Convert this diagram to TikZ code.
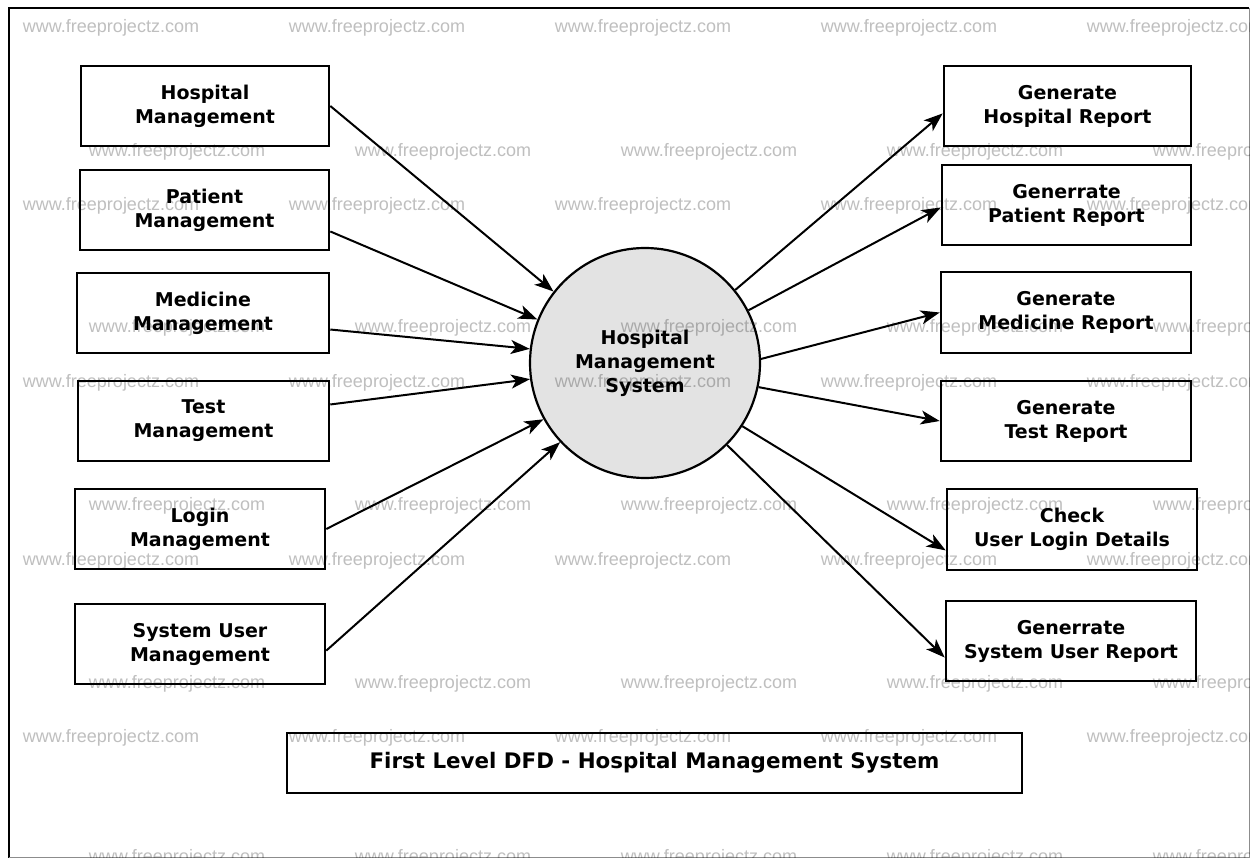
\documentclass[tikz,border=0pt]{standalone}
\usepackage{fontspec}
\setmainfont{DejaVu Sans}
\newfontfamily\wmfont{Liberation Sans}
\usetikzlibrary{arrows.meta,calc}
\begin{document}
\begin{tikzpicture}[x=1pt,y=-1pt,
  box/.style={draw,line width=2.6pt,minimum height=80pt,minimum width=250pt,inner sep=0pt,align=center,
    font=\bfseries\fontsize{19}{24}\selectfont},
  flow/.style={line width=2pt,-{Stealth[length=19pt,width=14pt,inset=5pt]}},
  wm/.style={font=\wmfont\fontsize{18}{20}\selectfont,text=black!25,inner sep=0pt}]
\useasboundingbox (0,0) rectangle (1252,858);
\fill[white] (0,0) rectangle (1252,858);
% frame
\draw[line width=2.2pt] (9,858) -- (9,8) -- (1249,8);
\draw[black!45,line width=1pt] (1249,8) -- (1249,857) -- (9,857);
% central process
\node[circle,draw,line width=2.2pt,fill=black!11,minimum size=230pt,inner sep=0pt,align=center,
  font=\bfseries\fontsize{19}{24}\selectfont] (c) at (645,363) {Hospital\\Management\\System};
% left boxes
\node[box,minimum width=248pt] (hm) at (205,106) {Hospital\\Management};
\node[box,minimum width=249pt] (pm) at (204.5,210) {Patient\\Management};
\node[box,minimum width=252pt] (mm) at (203,313) {Medicine\\Management};
\node[box,minimum width=251pt] (tm) at (203.5,421) {Test\\Management};
\node[box] (lm) at (200,529) {Login\\Management};
\node[box] (su) at (200,644) {System User\\Management};
% right boxes
\node[box,minimum width=247pt] (gh) at (1067.5,106) {Generate\\Hospital Report};
\node[box,minimum width=249pt] (gp) at (1066.5,205) {Generrate\\Patient Report};
\node[box,minimum height=81pt] (gm) at (1066,312.5) {Generate\\Medicine Report};
\node[box] (gt) at (1066,421) {Generate\\Test Report};
\node[box,minimum height=81pt] (cu) at (1072,529.5) {Check\\User Login Details};
\node[box] (gs) at (1071,641) {Generrate\\System User Report};
% title
\node[draw,line width=2.6pt,minimum width=735pt,minimum height=60pt,inner sep=0pt,
  font=\bfseries\fontsize{21.4}{25}\selectfont] (title) at (654.5,763) {First Level DFD - Hospital Management System};
% incoming flows
\draw[flow] (hm.east) -- (c.142);
\draw[flow] ($(pm.north east)!0.76!(pm.south east)$) -- (c.158.3);
\draw[flow] ($(mm.north east)!0.7!(mm.south east)$) -- (c.173.8);
\draw[flow] ($(tm.north east)!0.3!(tm.south east)$) -- (c.188.4);
\draw[flow] (lm.east) -- (c.209.5);
\draw[flow] ($(su.north east)!0.58!(su.south east)$) -- (c.223.4);
% outgoing flows
\draw[flow] (c.39.4) -- ($(gh.north west)!0.59!(gh.south west)$);
\draw[flow] (c.27.7) -- ($(gp.north west)!0.53!(gp.south west)$);
\draw[flow] (c.2) -- ($(gm.north west)!0.5!(gm.south west)$);
\draw[flow] (c.-12.3) -- ($(gt.north west)!0.5!(gt.south west)$);
\draw[flow] (c.-33) -- ($(cu.north west)!0.75!(cu.south west)$);
\draw[flow] (c.-45) -- ($(gs.north west)!0.7!(gs.south west)$);
% watermarks
\begin{scope}[blend mode=multiply]
\clip (10,9) rectangle (1249,857);
\foreach \y in {28,206,383,561,738}
  \foreach \x in {111,377,643,909,1175}
    \node[wm] (wa-\x-\y) at (\x,\y) {www.freeprojectz.com};
\foreach \y in {152,328,506,684,858}
  \foreach \x in {177,443,709,975,1241}
    \node[wm] (wb-\x-\y) at (\x,\y) {www.freeprojectz.com};
\end{scope}
\end{tikzpicture}
\end{document}
